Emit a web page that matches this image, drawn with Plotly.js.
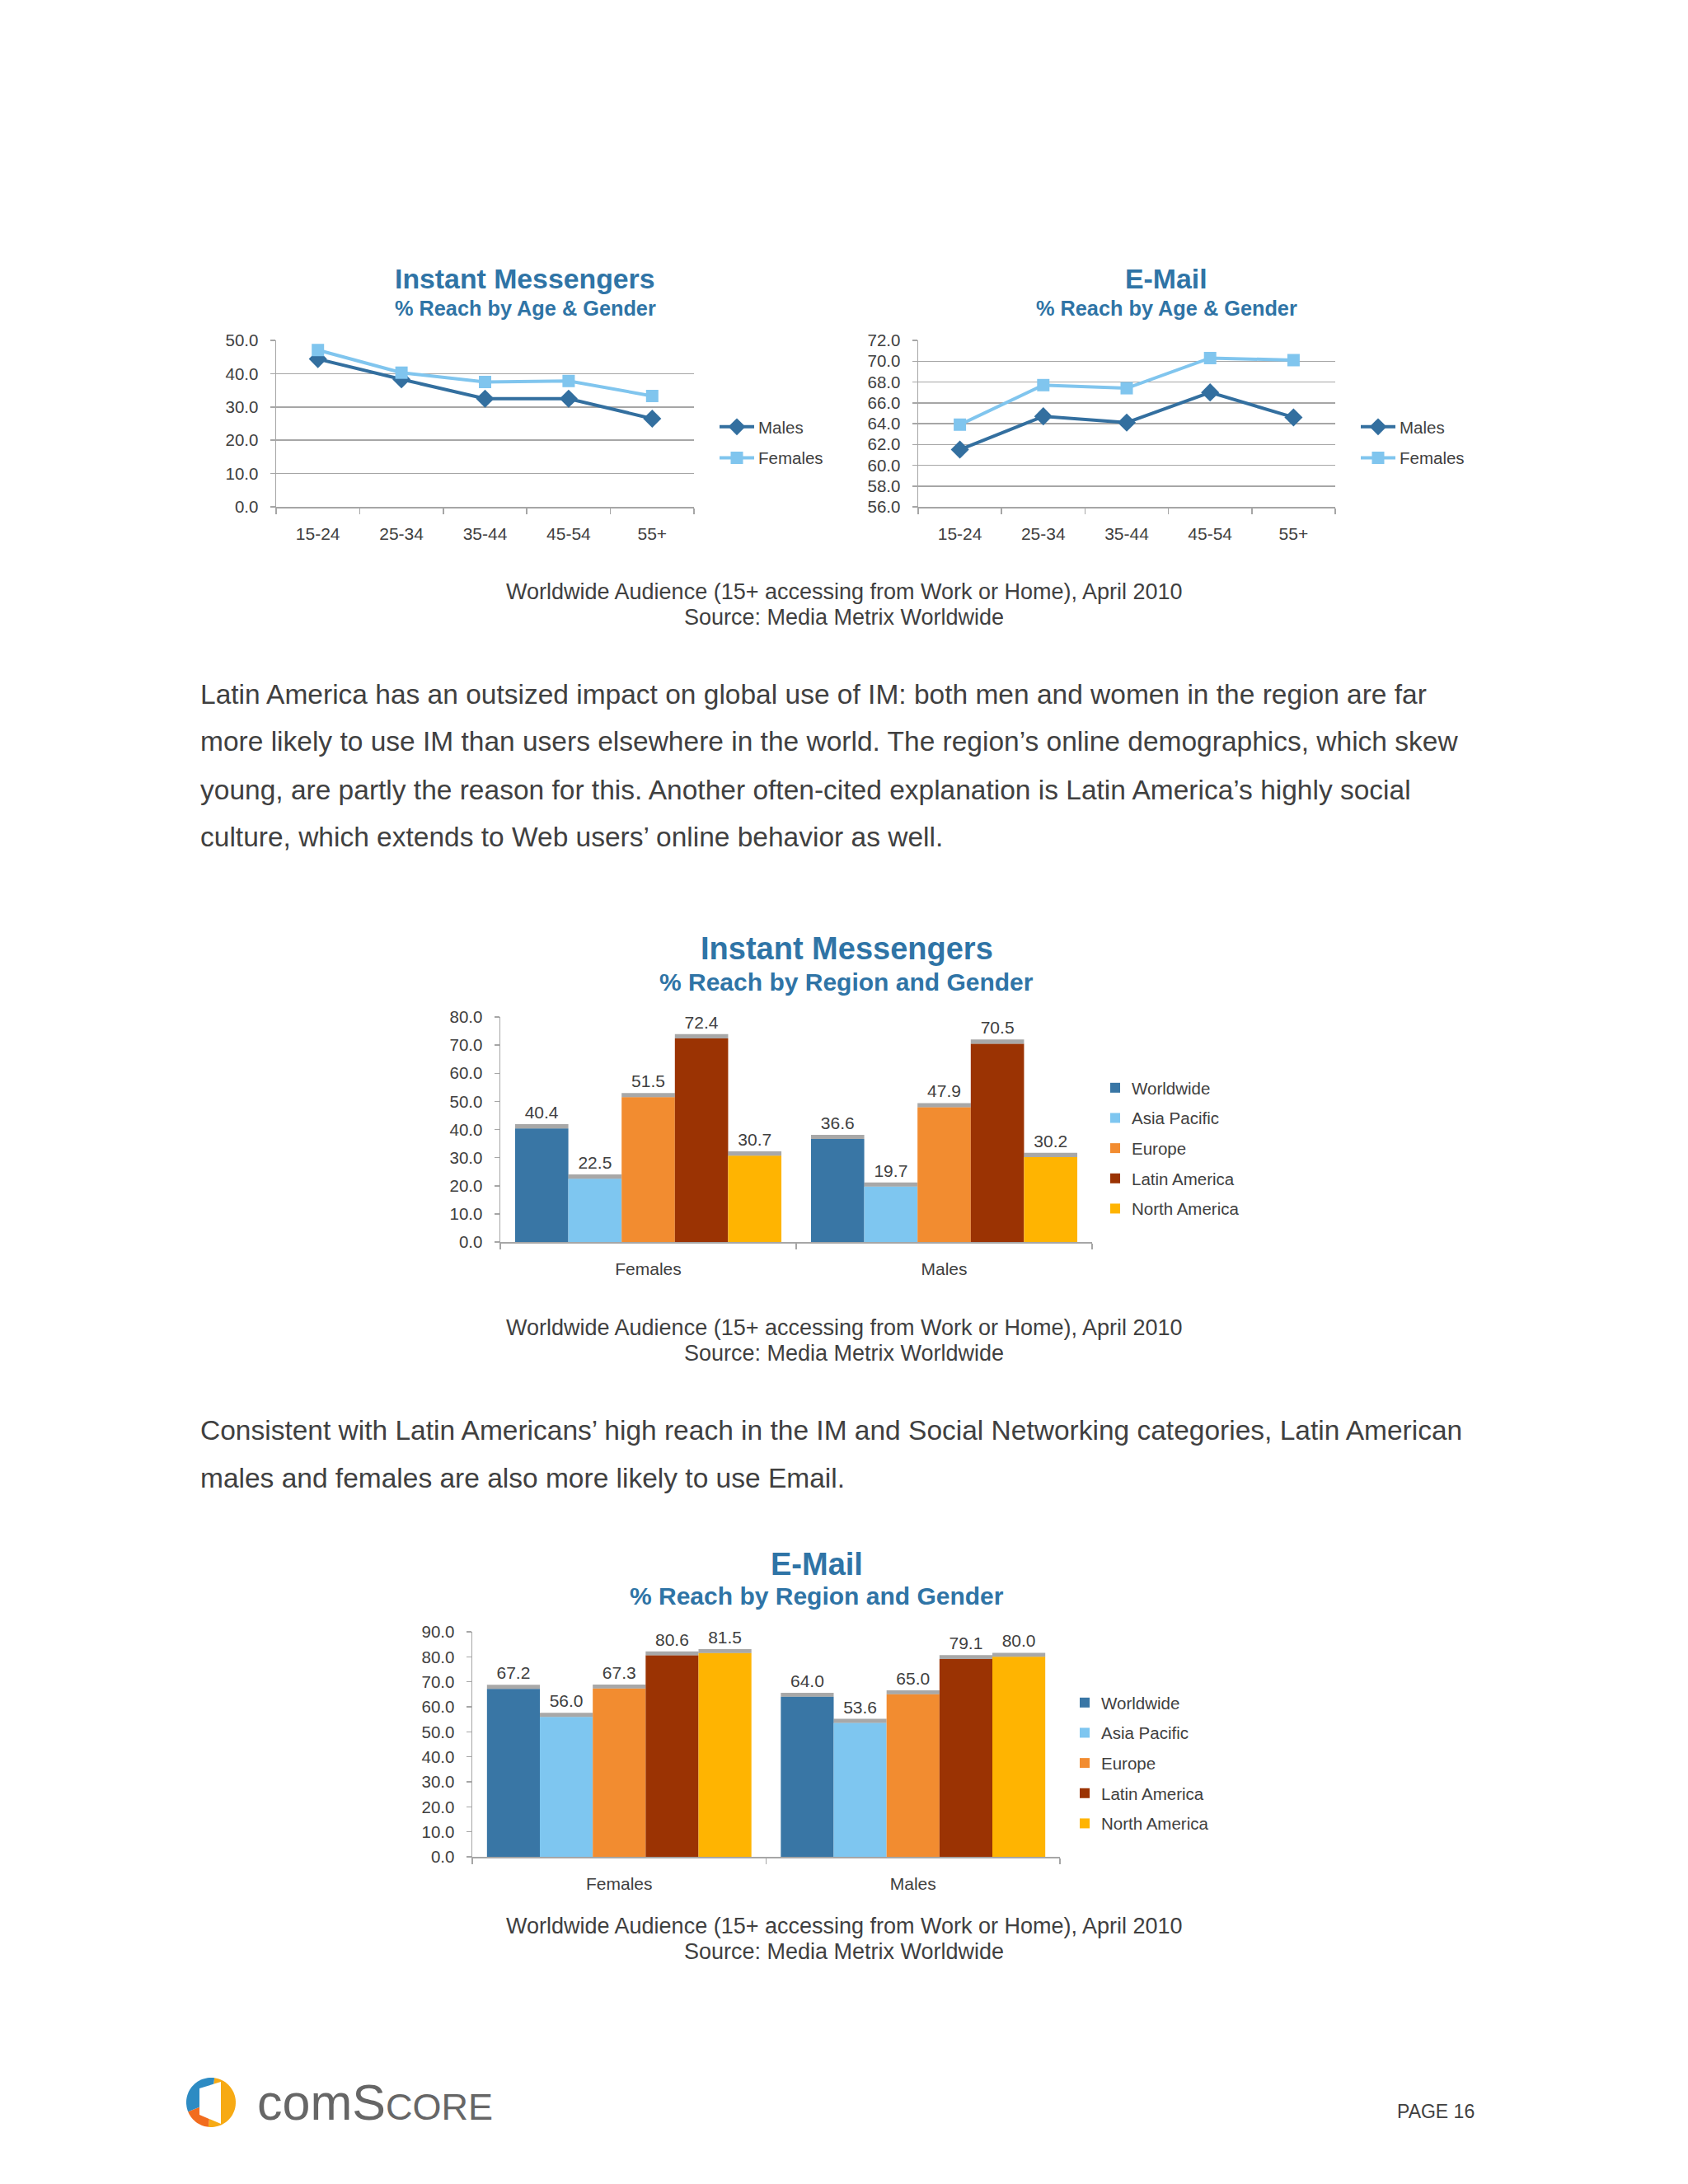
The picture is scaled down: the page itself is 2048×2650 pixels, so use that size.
<!DOCTYPE html>
<html><head><meta charset="utf-8">
<script src="https://cdn.plot.ly/plotly-3.0.1.min.js"></script>
<style>html,body{margin:0;padding:0;background:#fff;}#chart{width:2048px;height:2650px;}</style>
</head><body><div id="chart"></div>
<script>
// ---------- data ----------
const ageGroups = ['15-24', '25-34', '35-44', '45-54', '55+'];
const imMales = [44.4, 38.3, 32.5, 32.5, 26.5];
const imFemales = [47.1, 40.3, 37.5, 37.8, 33.3];
const emailMales = [61.5, 64.7, 64.1, 67.0, 64.6];
const emailFemales = [63.9, 67.7, 67.4, 70.3, 70.1];

const genders = ['Females', 'Males'];
const regions = ['Worldwide', 'Asia Pacific', 'Europe', 'Latin America', 'North America'];
const imWorldwide = [40.4, 36.6];
const imAsiaPacific = [22.5, 19.7];
const imEurope = [51.5, 47.9];
const imLatinAmerica = [72.4, 70.5];
const imNorthAmerica = [30.7, 30.2];
const emailWorldwide = [67.2, 64.0];
const emailAsiaPacific = [56.0, 53.6];
const emailEurope = [67.3, 65.0];
const emailLatinAmerica = [80.6, 79.1];
const emailNorthAmerica = [81.5, 80.0];

const imYTicks = [0, 10, 20, 30, 40, 50];
const emailYTicks = [56, 58, 60, 62, 64, 66, 68, 70, 72];
const imRegionYTicks = [0, 10, 20, 30, 40, 50, 60, 70, 80];
const emailRegionYTicks = [0, 10, 20, 30, 40, 50, 60, 70, 80, 90];

// ---------- style ----------
const W = 2048, H = 2650;
const FONT = '"Liberation Sans", Arial, sans-serif';
const TXT = '#404040';
const TITLE = '#2F74A6';
const AX = '#A6A6A6';
const MALE = '#336F9F', FEMALE = '#80C5EE';
const REGION_COLORS = ['#3976A5', '#7EC6F0', '#F28C30', '#9B3303', '#FFB401'];
const SHADOW = 'rgba(110,110,110,0.6)';

const px = x => x / W;
const py = y => 1 - y / H;
const xd = (a, b) => [a / W, b / W];
const yd = (top, bot) => [1 - bot / H, 1 - top / H];

const tickFont = {family: FONT, size: 20.5, color: TXT};

function catAxis(domain, n, anchor) {
  return {domain, anchor, type: 'category', range: [-0.5, n - 0.5], showline: true, linecolor: AX, linewidth: 1.5,
    ticks: 'outside', tickson: 'boundaries', ticklen: 7, tickcolor: AX, tickwidth: 1.5, showgrid: false,
    zeroline: false, tickfont: {family: FONT, size: 21, color: TXT}, ticklabelstandoff: 13, fixedrange: true};
}
function valAxis(domain, range, vals, grid, anchor) {
  return {domain, anchor, range, tickvals: vals, ticktext: vals.map(v => v.toFixed(1)), showline: true, linecolor: AX, linewidth: 1.5,
    ticks: 'outside', ticklen: 6, tickcolor: AX, tickwidth: 1.5, showgrid: grid, gridcolor: AX, gridwidth: 1.5,
    zeroline: false, tickfont: tickFont, ticklabelstandoff: 10, fixedrange: true};
}

const traces = [];
function lineTraces(xa, ya, males, females, leg) {
  traces.push({type: 'scatter', mode: 'lines+markers', x: ageGroups, y: males, name: 'Males', xaxis: xa, yaxis: ya,
    line: {color: MALE, width: 4}, marker: {symbol: 'diamond', size: 17, color: MALE}, legend: leg, legendgroup: leg + 'm', hoverinfo: 'skip', cliponaxis: false});
  traces.push({type: 'scatter', mode: 'lines+markers', x: ageGroups, y: females, name: 'Females', xaxis: xa, yaxis: ya,
    line: {color: FEMALE, width: 4}, marker: {symbol: 'square', size: 15, color: FEMALE}, legend: leg, legendgroup: leg + 'f', hoverinfo: 'skip', cliponaxis: false});
}
lineTraces('x', 'y', imMales, imFemales, 'legend');
lineTraces('x2', 'y2', emailMales, emailFemales, 'legend2');

function barTraces(xa, ya, series, leg, sh) {
  series.forEach((vals, i) => {
    traces.push({type: 'bar', x: genders, y: vals, name: regions[i], xaxis: xa, yaxis: ya, offsetgroup: leg + i,
      marker: {color: REGION_COLORS[i], line: {width: 0}}, legend: leg, legendgroup: leg + i, hoverinfo: 'skip'});
    traces.push({type: 'bar', x: genders, y: vals.map(() => sh), base: vals, xaxis: xa, yaxis: ya, offsetgroup: leg + i,
      marker: {color: SHADOW, line: {width: 0}}, showlegend: false, hoverinfo: 'skip',
      text: vals.map(v => v.toFixed(1)), textposition: 'outside', constraintext: 'none', cliponaxis: false,
      textfont: {family: FONT, size: 21, color: TXT}});
  });
}
barTraces('x3', 'y3', [imWorldwide, imAsiaPacific, imEurope, imLatinAmerica, imNorthAmerica], 'legend3', 1.5);
barTraces('x4', 'y4', [emailWorldwide, emailAsiaPacific, emailEurope, emailLatinAmerica, emailNorthAmerica], 'legend4', 1.6);

function legendAt(x, top, gap) {
  return {x: px(x), y: py(top), xanchor: 'left', yanchor: 'top', bgcolor: 'rgba(0,0,0,0)', borderwidth: 0,
    font: {family: FONT, size: 20.5, color: TXT}, traceorder: 'grouped', tracegroupgap: gap, itemclick: false, itemdoubleclick: false};
}
const lineLegend = (x, top) => Object.assign(legendAt(x, top, 8), {itemwidth: 42});

const annotations = [];
function txt(text, x, y, size, opts) {
  annotations.push(Object.assign({text, x: px(x), y: py(y), xref: 'paper', yref: 'paper', showarrow: false,
    xanchor: 'center', yanchor: 'middle', font: {family: FONT, size, color: TXT}}, opts || {}));
}
function title(main, sub, x, y1, y2, s1, s2) {
  txt('<b>' + main + '</b>', x, y1, s1, {font: {family: FONT, size: s1, color: TITLE}});
  txt('<b>' + sub + '</b>', x, y2, s2, {font: {family: FONT, size: s2, color: TITLE}});
}
title('Instant Messengers', '% Reach by Age &amp; Gender', 637, 338, 374, 33.8, 25.3);
title('E-Mail', '% Reach by Age &amp; Gender', 1415, 338, 374, 33.8, 25.3);
title('Instant Messengers', '% Reach by Region and Gender', 1027, 1151, 1191, 38, 30);
title('E-Mail', '% Reach by Region and Gender', 991, 1898, 1936, 38, 30);

const cap1 = 'Worldwide Audience (15+ accessing from Work or Home), April 2010';
const cap2 = 'Source: Media Metrix Worldwide';
[[718, 749], [1611, 1642], [2337, 2368]].forEach(([a, b]) => { txt(cap1, 1024, a, 27); txt(cap2, 1024, b, 27); });

const para1 = [
  'Latin America has an outsized impact on global use of IM: both men and women in the region are far',
  'more likely to use IM than users elsewhere in the world. The region\u2019s online demographics, which skew',
  'young, are partly the reason for this. Another often-cited explanation is Latin America\u2019s highly social',
  'culture, which extends to Web users\u2019 online behavior as well.'
];
const para2 = [
  'Consistent with Latin Americans\u2019 high reach in the IM and Social Networking categories, Latin American',
  'males and females are also more likely to use Email.'
];
para1.forEach((t, i) => txt(t, 241, [842, 900, 958, 1015][i], 33.5, {xanchor: 'left'}));
para2.forEach((t, i) => txt(t, 241, [1735, 1793][i], 33.5, {xanchor: 'left'}));

txt('PAGE 16', 1791, 2562, 23, {xanchor: 'right'});
txt('com<span style="font-size:61px">S</span><span style="font-size:45px">CORE</span>', 310, 2551, 61,
  {xanchor: 'left', font: {family: FONT, size: 61, color: '#666666'}});

// ---------- logo shapes ----------
function P(x, y) { return px(x).toFixed(5) + ',' + py(y).toFixed(5); }
function wedge(cx, cy, r, a0, a1, n) {
  let s = 'M' + P(cx, cy);
  for (let i = 0; i <= n; i++) { const a = (a0 + (a1 - a0) * i / n) * Math.PI / 180; s += 'L' + P(cx + r * Math.cos(a), cy + r * Math.sin(a)); }
  return s + 'Z';
}
function poly(pts) { return 'M' + pts.map(p => P(p[0], p[1])).join('L') + 'Z'; }
const shapes = [
  {type: 'path', xref: 'paper', yref: 'paper', path: wedge(256, 2551, 30, -82, 96, 40), fillcolor: '#F7AA14', line: {width: 0}},
  {type: 'path', xref: 'paper', yref: 'paper', path: wedge(256, 2551, 30, 96, 158, 20), fillcolor: '#F26C1E', line: {width: 0}},
  {type: 'path', xref: 'paper', yref: 'paper', path: wedge(256, 2551, 30, 158, 278, 30), fillcolor: '#2D8BC3', line: {width: 0}},
  {type: 'path', xref: 'paper', yref: 'paper', path: poly([[242, 2534], [268, 2526], [268, 2577], [242, 2566]]), fillcolor: '#FFFFFF', line: {width: 0}}
];

const layout = {
  width: W, height: H, margin: {l: 0, r: 0, t: 0, b: 0}, paper_bgcolor: '#fff', plot_bgcolor: 'rgba(0,0,0,0)',
  font: {family: FONT, color: TXT}, barmode: 'group', bargap: 0.1, bargroupgap: 0,
  xaxis: catAxis(xd(335, 842), 5, 'y'), yaxis: valAxis(yd(413, 615), [0, 50], imYTicks, true, 'x'),
  xaxis2: catAxis(xd(1114, 1620), 5, 'y2'), yaxis2: valAxis(yd(413, 615), [56, 72], emailYTicks, true, 'x2'),
  xaxis3: catAxis(xd(607, 1325), 2, 'y3'), yaxis3: valAxis(yd(1234, 1507), [0, 80], imRegionYTicks, false, 'x3'),
  xaxis4: catAxis(xd(573, 1286), 2, 'y4'), yaxis4: valAxis(yd(1980, 2253), [0, 90], emailRegionYTicks, false, 'x4'),
  legend: lineLegend(868, 498), legend2: lineLegend(1646, 498),
  legend3: legendAt(1333, 1300, 7), legend4: legendAt(1296, 2046, 7),
  annotations, shapes, showlegend: true
};
Plotly.newPlot('chart', traces, layout, {displayModeBar: false, staticPlot: true});
</script></body></html>
